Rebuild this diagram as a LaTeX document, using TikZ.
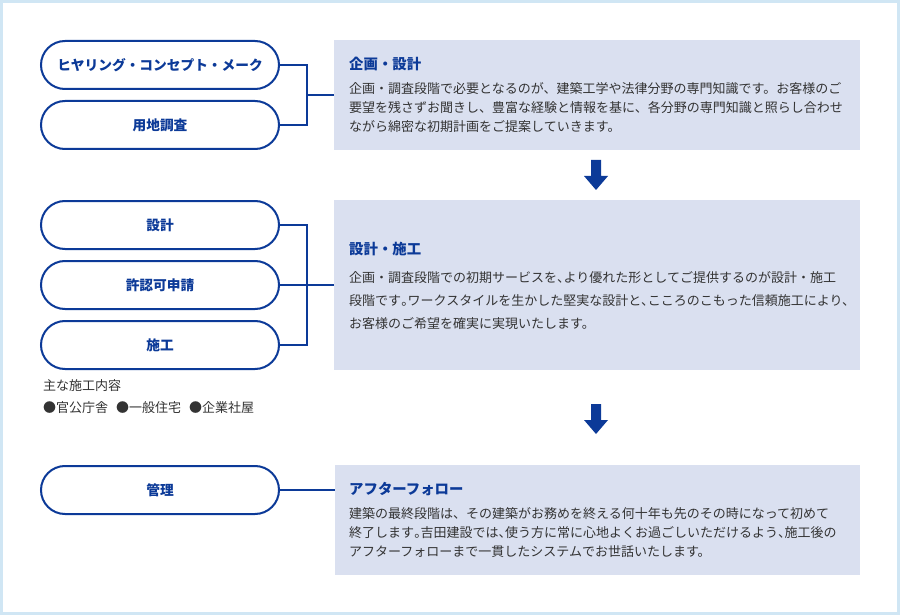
\documentclass[tikz,border=0pt]{standalone}
\usepackage{fontspec}
\setmainfont{Noto Sans CJK JP}
\newfontfamily\pp[RawFeature=+palt]{Noto Sans CJK JP}
\newcommand{\nk}{{\pp 、}}
\newcommand{\mr}{{\pp 。}}
\newcommand{\nd}{{\pp ・}}
\usetikzlibrary{calc}
\definecolor{frameblue}{RGB}{208,230,244}
\definecolor{panelfill}{RGB}{218,224,240}
\definecolor{mainblue}{RGB}{12,58,152}
\definecolor{txtgray}{RGB}{51,51,51}
\begin{document}
\begin{tikzpicture}[x=1pt,y=-1pt,
  pill/.style={draw=mainblue,line width=2pt,fill=white,rounded corners=24pt,
    minimum width=238pt,minimum height=48pt,inner sep=0pt,
    font=\fontsize{13.7}{16}\selectfont\bfseries,text=mainblue},
  panel/.style={fill=panelfill,draw=none,minimum width=526pt,inner sep=0pt},
  conn/.style={draw=mainblue,line width=2pt},
  ttl/.style={anchor=west,inner sep=0pt,font=\fontsize{14.4}{16}\selectfont\bfseries,text=mainblue},
  body/.style={anchor=north west,inner sep=0pt,align=left,text=txtgray},
  down/.style={fill=mainblue,draw=none}
]
\useasboundingbox (0,0) rectangle (900,615);
\fill[frameblue] (0,0) rectangle (900,615);
\fill[white] (3,3) rectangle (897,612);

% panels
\node[panel,minimum height=110pt] (b1) at (597,95) {};
\node[panel,minimum height=170pt] (b2) at (597,285) {};
\node[panel,minimum height=110pt,minimum width=525pt] (b3) at (597.5,520) {};

% pills
\node[pill] (p1) at (160,65) {ヒヤリング・コンセプト・メーク};
\node[pill] (p2) at (160,125) {用地調査};
\node[pill] (p3) at (160,225) {設計};
\node[pill] (p4) at (160,285) {許認可申請};
\node[pill] (p5) at (160,345) {施工};
\node[pill] (p6) at (160,490) {管理};

% connectors
\coordinate (j1) at (307,95);
\coordinate (j2) at (307,285);
\draw[conn] (p1.east) -| (j1) |- (p2.east);
\draw[conn] (j1) -- (j1 -| b1.west);
\draw[conn] (p3.east) -| (j2) |- (p5.east);
\draw[conn] (p4.east) -- (p4.east -| b2.west);
\draw[conn] (p6.east) -- (p6.east -| b3.west);

% panel 1 text
\node[ttl] (t1) at (349,64) {企画・設計};
\node[body,font=\fontsize{13}{19}\selectfont] (d1) at (349,82)
 {企画・調査段階で必要となるのが、建築工学や法律分野の専門知識です。お客様のご\\
  要望を残さずお聞きし、豊富な経験と情報を基に、各分野の専門知識と照らし合わせ\\
  ながら綿密な初期計画をご提案していきます。};

% panel 2 text
\node[ttl] (t2) at (349,249) {設計・施工};
\node[body,font=\fontsize{13}{23}\selectfont] (d2) at (349,271.5)
 {企画・調査段階での初期サービスを\nk{}より優れた形としてご提供するのが設計・施工\\
  段階です\mr{}ワークスタイルを生かした堅実な設計と\nk{}こころのこもった信頼施工により、\\
  お客様のご希望を確実に実現いたします。};

% panel 3 text
\node[ttl] (t3) at (349,489) {アフターフォロー};
\node[body,font=\fontsize{13}{19}\selectfont] (d3) at (349,507)
 {建築の最終段階は、その建築がお務めを終える何十年も先のその時になって初めて\\
  終了します\mr{}吉田建設では\nk{}使う方に常に心地よくお過ごしいただけるよう\nk{}施工後の\\
  アフターフォローまで一貫したシステムでお世話いたします。};

% caption
\node[body,font=\fontsize{13}{22}\selectfont] (cap) at (43,379)
 {主な施工内容\\●官公庁舎\hspace{8pt}●一般住宅\hspace{8pt}●企業社屋};

% arrows
\fill[down] (591,160) -- (601,160) -- (601,176) -- (608,176) -- (596,190) -- (584,176) -- (591,176) -- cycle;
\fill[down] (591,404) -- (601,404) -- (601,420) -- (608,420) -- (596,434) -- (584,420) -- (591,420) -- cycle;
\end{tikzpicture}
\end{document}
